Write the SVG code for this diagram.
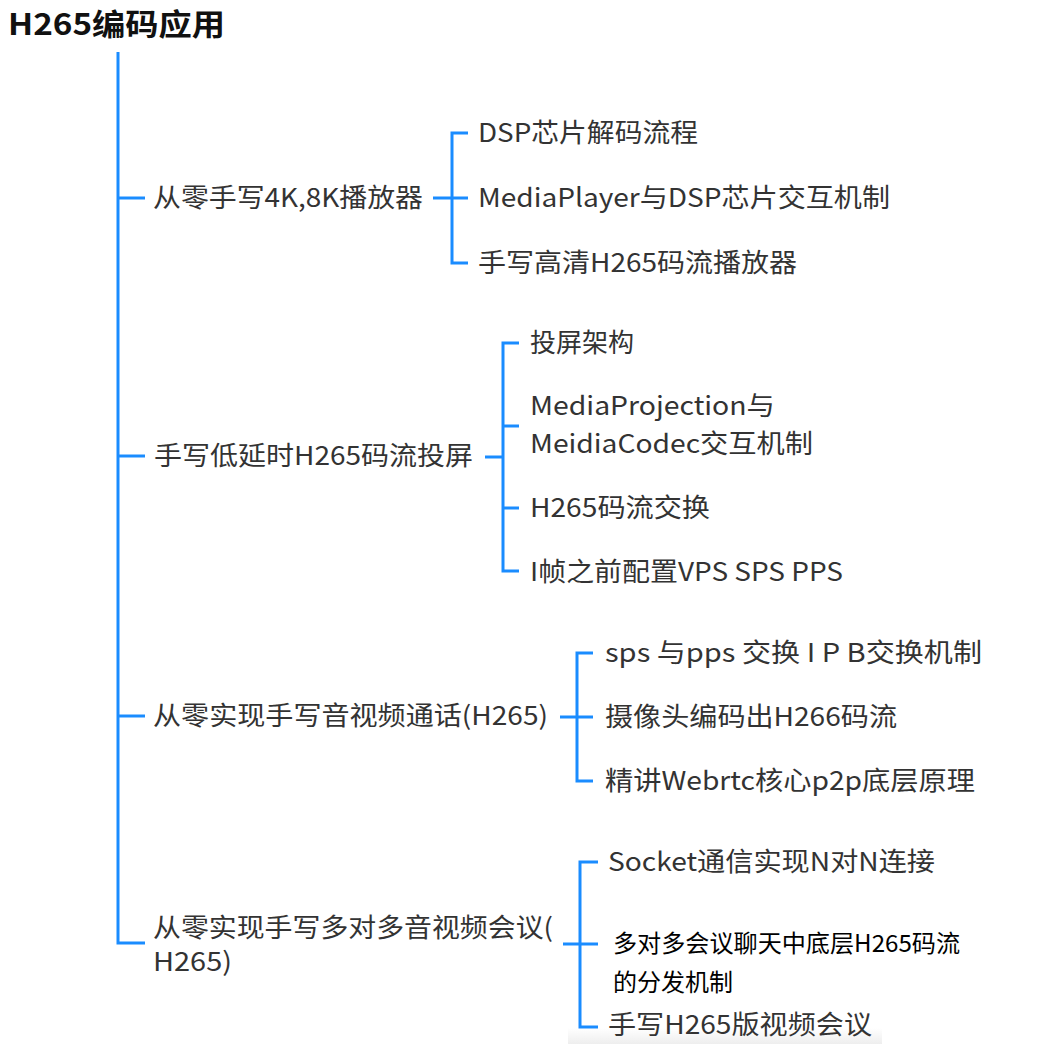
<svg xmlns="http://www.w3.org/2000/svg" width="1048" height="1056" viewBox="0 0 1048 1056">
<style>
.t{font-family:"Noto Sans CJK SC","Noto Sans",sans-serif;font-size:26px;fill:#333;}
.b{font-family:"Noto Sans CJK SC","Noto Sans",sans-serif;font-size:24px;fill:#000;}
.h{font-family:"Noto Sans CJK SC","Noto Sans",sans-serif;font-size:30px;font-weight:bold;fill:#111;}
.c{fill:none;stroke:#1a8cff;stroke-width:3;}
</style>
<defs>
<linearGradient id="sh" x1="0" y1="0" x2="0" y2="1">
<stop offset="0" stop-color="#ffffff"/>
<stop offset="1" stop-color="#eeeeee"/>
</linearGradient>
</defs>
<rect x="0" y="0" width="1048" height="1056" fill="#ffffff"/>
<rect x="568" y="1028" width="314" height="16" fill="url(#sh)"/>
<g id="connectors">
<path class="c" d="M118 52 V943 H145"/>
<path class="c" d="M118 198 H145"/>
<path class="c" d="M118 456 H145"/>
<path class="c" d="M118 716 H145"/>
<path class="c" d="M433 198 H468"/>
<path class="c" d="M468 133 H452 V263 H468"/>
<path class="c" d="M485 457 H503"/>
<path class="c" d="M519 343 H503 V571 H519"/>
<path class="c" d="M503 426 H519"/>
<path class="c" d="M503 508 H519"/>
<path class="c" d="M560 717 H593"/>
<path class="c" d="M593 653 H577 V781 H593"/>
<path class="c" d="M563 944 H598"/>
<path class="c" d="M598 862 H580 V1027 H598"/>
</g>
<g id="root"><text class="h" x="8" y="35" textLength="217" lengthAdjust="spacingAndGlyphs">H265编码应用</text></g>
<g id="n1"><text class="t" x="153" y="207" textLength="270" lengthAdjust="spacingAndGlyphs">从零手写4K,8K播放器</text></g>
<g id="n1a"><text class="t" x="478" y="142" textLength="220" lengthAdjust="spacingAndGlyphs">DSP芯片解码流程</text></g>
<g id="n1b"><text class="t" x="478" y="207" textLength="412" lengthAdjust="spacingAndGlyphs">MediaPlayer与DSP芯片交互机制</text></g>
<g id="n1c"><text class="t" x="478" y="272" textLength="319" lengthAdjust="spacingAndGlyphs">手写高清H265码流播放器</text></g>
<g id="n2"><text class="t" x="154" y="465" textLength="319" lengthAdjust="spacingAndGlyphs">手写低延时H265码流投屏</text></g>
<g id="n2a"><text class="t" x="530" y="352">投屏架构</text></g>
<g id="n2b"><text class="t" x="530" y="415" textLength="245" lengthAdjust="spacingAndGlyphs">MediaProjection与</text><text class="t" x="530" y="453" textLength="283" lengthAdjust="spacingAndGlyphs">MeidiaCodec交互机制</text></g>
<g id="n2c"><text class="t" x="530" y="517" textLength="180" lengthAdjust="spacingAndGlyphs">H265码流交换</text></g>
<g id="n2d"><text class="t" x="530" y="581" textLength="313" lengthAdjust="spacingAndGlyphs">I帧之前配置VPS SPS PPS</text></g>
<g id="n3"><text class="t" x="153" y="725" textLength="395" lengthAdjust="spacingAndGlyphs">从零实现手写音视频通话(H265)</text></g>
<g id="n3a"><text class="t" x="605" y="662" textLength="377" lengthAdjust="spacingAndGlyphs">sps 与pps 交换  I P B交换机制</text></g>
<g id="n3b"><text class="t" x="605" y="726" textLength="292" lengthAdjust="spacingAndGlyphs">摄像头编码出H266码流</text></g>
<g id="n3c"><text class="t" x="605" y="790" textLength="370" lengthAdjust="spacingAndGlyphs">精讲Webrtc核心p2p底层原理</text></g>
<g id="n4"><text class="t" x="153" y="937" textLength="400" lengthAdjust="spacingAndGlyphs">从零实现手写多对多音视频会议(</text><text class="t" x="153" y="971" textLength="79" lengthAdjust="spacingAndGlyphs">H265)</text></g>
<g id="n4a"><text class="t" x="608" y="871" textLength="327" lengthAdjust="spacingAndGlyphs">Socket通信实现N对N连接</text></g>
<g id="n4b"><text class="b" x="613" y="952" textLength="347" lengthAdjust="spacingAndGlyphs">多对多会议聊天中底层H265码流</text><text class="b" x="613" y="991">的分发机制</text></g>
<g id="n4c"><text class="t" x="608" y="1034" textLength="264" lengthAdjust="spacingAndGlyphs">手写H265版视频会议</text></g>
</svg>
